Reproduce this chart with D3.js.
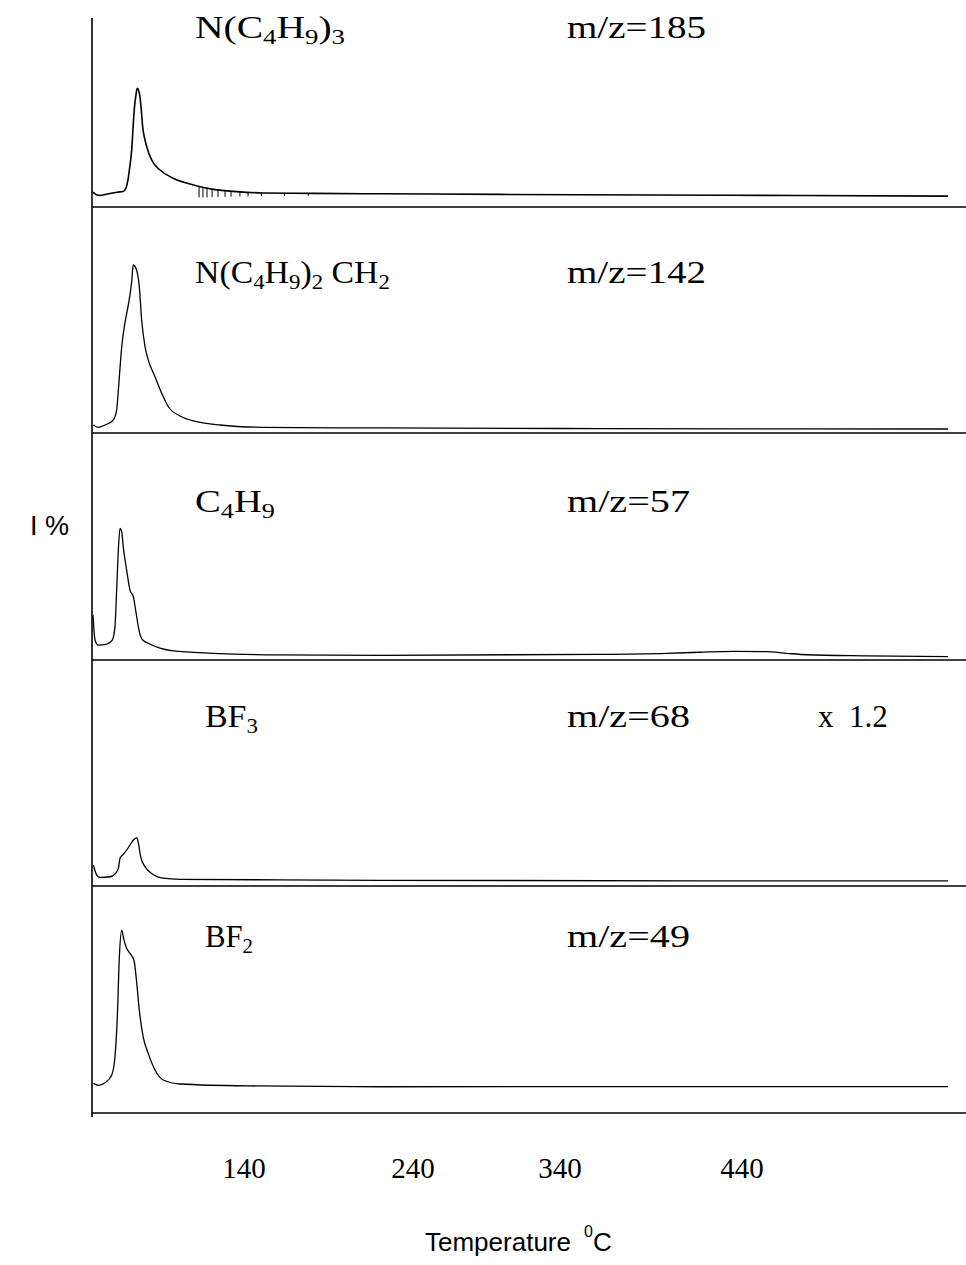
<!DOCTYPE html>
<html>
<head>
<meta charset="utf-8">
<script src="https://cdn.jsdelivr.net/npm/d3@7"></script>
<style>
  html, body { margin: 0; padding: 0; background: #fff; }
  svg { display: block; }
  .serif { font-family: "Liberation Serif", "Times New Roman", serif; fill: #000; }
  .sans { font-family: "Liberation Sans", Arial, sans-serif; fill: #000; }
</style>
</head>
<body>
<script>
// Ion traces: [temperature °C, relative intensity]
const trace185 = [
  [50.6,7.1],[53.0,5.7],[54.7,5.5],[60.7,6.4],[65.4,7.1],[68.4,7.4],[70.1,9.0],[71.3,12.9],
  [72.5,20.0],[73.5,27.1],[74.3,37.6],[75.0,46.2],[76.1,53.8],[76.8,56.5],[77.5,55.7],
  [78.4,52.5],[79.3,45.2],[80.0,38.2],[81.1,32.9],[82.4,28.7],[85.3,22.4],[90.3,17.6],
  [98.1,13.7],[110.0,10.5],[121.8,8.4],[135.7,7.3],[151.2,6.7],[180.8,6.5],[220.4,6.3],
  [299.2,6.0],[389.5,5.7],[471.8,5.5],[553,5.2]
];
const trace142 = [
  [50.8,3.8],[53.7,2.7],[57.7,3.8],[62.6,6.2],[64.6,11.0],[65.4,18.1],[66.2,26.8],[67.6,41.1],
  [69.5,52.4],[71.5,61.0],[73.5,72.0],[74.4,80.0],[75.7,79.0],[76.4,77.6],[78.0,69.7],
  [79.4,53.8],[81.4,41.1],[83.3,34.8],[87.3,26.8],[91.3,18.9],[95.2,12.5],[102.1,8.1],
  [112.0,5.4],[125.8,3.8],[151.2,2.7],[220.4,2.4],[362.0,2.1],[553,1.9]
];
const trace57 = [
  [50.6,21.4],[51.8,9.5],[53.7,7.1],[58.7,7.6],[62.0,9.5],[63.6,15.9],[64.6,33.3],[65.6,52.4],
  [66.6,62.7],[67.6,61.1],[68.5,54.0],[70.5,42.9],[72.5,33.3],[74.5,30.1],[76.1,22.4],
  [78.0,13.5],[80.0,9.5],[84.3,7.6],[90.3,5.6],[98.1,4.3],[121.8,3.2],[161.3,2.4],
  [220.4,2.2],[362.0,2.7],[398.6,3.2],[416.8,3.7],[435.1,4.1],[453.5,4.0],[464.5,3.2],
  [475.5,2.5],[508.4,2.0],[553,1.6]
];
const trace68 = [
  [50.8,10.0],[52.8,5.2],[54.7,4.1],[60.7,4.4],[63.6,5.7],[65.6,8.4],[66.6,13.2],[68.2,14.8],
  [70.5,17.1],[72.5,19.5],[74.5,21.9],[76.5,23.0],[77.5,20.3],[78.8,14.0],[81.4,9.2],
  [85.3,6.0],[92.2,3.7],[102.1,3.2],[161.3,2.9],[220.4,2.7],[553,2.4]
];
const trace49 = [
  [50.8,14.1],[53.7,13.2],[57.7,14.4],[61.7,18.1],[63.6,26.8],[65.0,45.9],[66.2,74.4],
  [67.6,87.1],[68.9,82.4],[70.5,78.4],[72.5,76.0],[74.9,72.5],[76.5,61.8],[78.0,49.0],
  [80.3,36.3],[83.3,28.4],[87.3,20.5],[92.2,15.7],[102.1,13.8],[141.6,12.9],[220.4,12.5],
  [553,12.6]
];

// Short noise spikes on the m/z=185 tail: [temperature, upper, lower]
const spikes185 = [
  [113.4,9.9,4.6],[115.7,9.6,4.6],[118.1,9.2,4.6],[121.1,8.6,4.7],[124.6,8.2,4.8],
  [128.8,7.8,4.8],[132.3,7.5,4.9],[137.6,7.3,5.0],[142.4,7.1,5.1],[150.3,6.8,5.2],
  [163.9,6.6,5.3],[178.0,6.5,5.4]
];

const ionLabels = ["N(C|4|H|9|)|3", "N(C|4|H|9|)|2| CH|2", "C|4|H|9", "BF|3", "BF|2"];
const massLabels = ["m/z=185", "m/z=142", "m/z=57", "m/z=68", "m/z=49"];
const scaleNotes = ["", "", "", "x  1.2", ""];
const traces = [trace185, trace142, trace57, trace68, trace49];
const tickValues = [140, 240, 340, 440];
const tempRange = [50, 553];

// ---- layout ----
const W = 966, H = 1265;
const axisX = 92, rightX = 966;
const panelBottoms = [207, 433, 660, 886, 1113];
const labelBaselines = [38, 283, 512, 727, 947];
const ionX = [195, 195, 195, 205, 205];
const ionWidths = [150, 195, 80, 53, 48];       // printed label widths (px)
const massX = 567;
const massWidths = [139, 139, 123, 123, 123];
const fs = 31, subFs = 21;

const svg = d3.select("body").append("svg")
  .attr("width", W).attr("height", H)
  .attr("viewBox", `0 0 ${W} ${H}`);

// The printed temperature labels sit at uneven spacing, so the axis is piecewise linear
const x = d3.scaleLinear()
  .domain([tempRange[0], ...tickValues, tempRange[1]])
  .range([92, 244, 413, 560, 742, 948]);

const yScales = panelBottoms.map(b => d3.scaleLinear().domain([0, 100]).range([b, b - 210]));

// stretch a label horizontally about its left edge to a given width
function fitWidth(sel, x0, width) {
  const w = sel.node().getBBox().width;
  const s = width / w;
  sel.attr("transform", `translate(${x0},0) scale(${s},1) translate(${-x0},0)`);
}

// vertical axis
svg.append("line")
  .attr("x1", axisX).attr("x2", axisX)
  .attr("y1", 18).attr("y2", 1117)
  .attr("stroke", "#000").attr("stroke-width", 1.6);

// panel base lines
svg.selectAll("line.base").data(panelBottoms).join("line")
  .attr("class", "base")
  .attr("x1", axisX).attr("x2", rightX)
  .attr("y1", d => d).attr("y2", d => d)
  .attr("stroke", "#000").attr("stroke-width", 1.6);

// traces
traces.forEach((tr, i) => {
  const line = d3.line()
    .x(d => x(d[0]))
    .y(d => yScales[i](d[1]))
    .curve(d3.curveMonotoneX);
  svg.append("path")
    .datum(tr)
    .attr("d", line)
    .attr("fill", "none")
    .attr("stroke", "#000")
    .attr("stroke-width", i === 0 ? 1.6 : 1.3)
    .attr("stroke-linejoin", "round");
});

svg.selectAll("line.spike").data(spikes185).join("line")
  .attr("class", "spike")
  .attr("x1", d => x(d[0])).attr("x2", d => x(d[0]))
  .attr("y1", d => yScales[0](d[1])).attr("y2", d => yScales[0](d[2]))
  .attr("stroke", "#000").attr("stroke-width", 1);

// ion formula labels with subscripts (odd segments are subscripts)
ionLabels.forEach((lab, i) => {
  const t = svg.append("text")
    .attr("class", "serif")
    .attr("x", ionX[i]).attr("y", labelBaselines[i])
    .attr("font-size", fs);
  lab.split("|").forEach((seg, k) => {
    const sub = k % 2 === 1;
    t.append("tspan")
      .attr("font-size", sub ? subFs : fs)
      .attr("dy", sub ? 6 : (k > 0 ? -6 : 0))
      .text(seg);
  });
  fitWidth(t, ionX[i], ionWidths[i]);
});

massLabels.forEach((lab, i) => {
  const t = svg.append("text")
    .attr("class", "serif")
    .attr("x", massX).attr("y", labelBaselines[i])
    .attr("font-size", fs)
    .text(lab);
  fitWidth(t, massX, massWidths[i]);
});

svg.selectAll("text.note").data(scaleNotes.filter(d => d)).join("text")
  .attr("class", "note serif")
  .attr("x", 818).attr("y", labelBaselines[scaleNotes.findIndex(s => s)])
  .attr("font-size", fs)
  .attr("xml:space", "preserve")
  .style("white-space", "pre")
  .text(d => d);

// temperature tick labels
svg.selectAll("text.tick").data(tickValues).join("text")
  .attr("class", "tick serif")
  .attr("x", d => x(d)).attr("y", 1178)
  .attr("text-anchor", "middle")
  .attr("font-size", 29)
  .text(d => d);

// axis titles
const xt = svg.append("text")
  .attr("class", "sans")
  .attr("x", 425).attr("y", 1251)
  .attr("font-size", 26);
xt.append("tspan").text("Temperature");
xt.append("tspan").attr("dx", 13).attr("dy", -14).attr("font-size", 16).text("0");
xt.append("tspan").attr("dy", 14).text("C");

svg.append("text")
  .attr("class", "sans")
  .attr("x", 30).attr("y", 535)
  .attr("font-size", 27)
  .text("I %");
</script>
</body>
</html>
